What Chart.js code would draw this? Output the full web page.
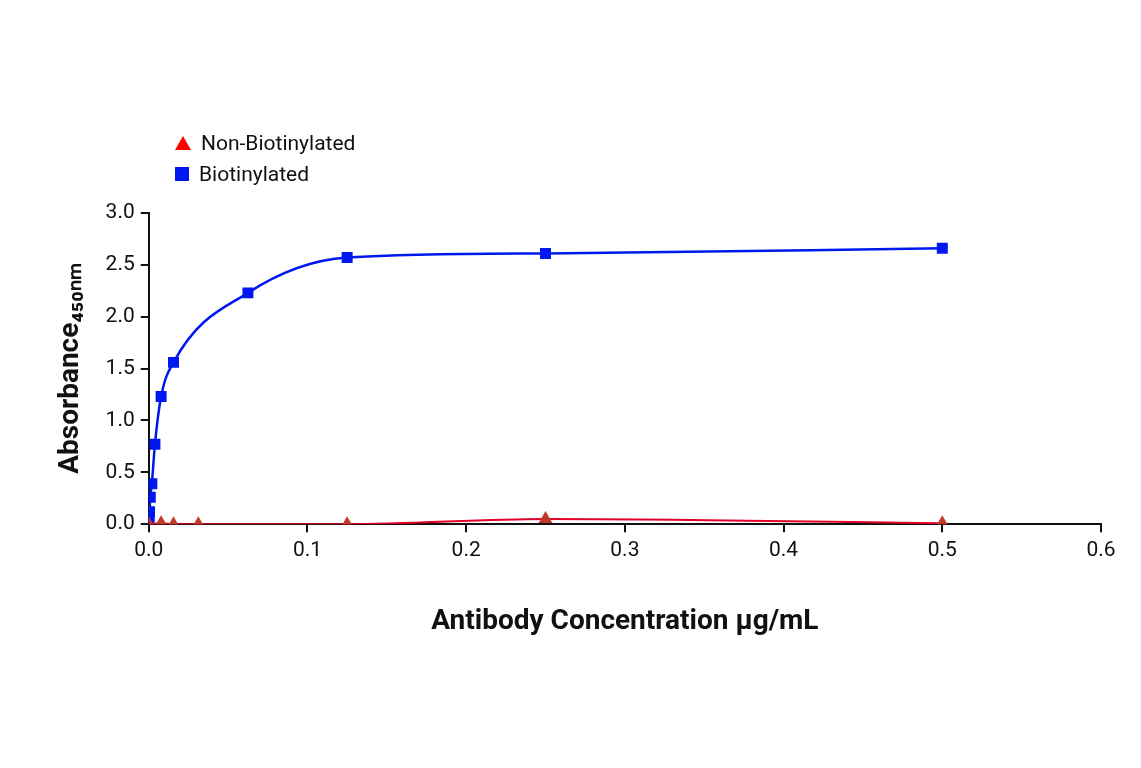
<!DOCTYPE html>
<html><head><meta charset="utf-8">
<script src="https://cdn.jsdelivr.net/npm/chart.js@4"></script>
<style>
body{margin:0;background:#fff;font-family:"Roboto","Liberation Sans",sans-serif;}
#wrap{position:relative;width:1141px;height:768px;}
.leg{position:absolute;left:175px;font-size:21px;color:#111;display:flex;align-items:center;}
.leg span{display:inline-block;margin-right:10px;}
</style></head><body>
<div id="wrap">
<canvas id="c" width="1141" height="768"></canvas>
<div class="leg" style="top:131px"><span style="width:0;height:0;border-left:8px solid transparent;border-right:8px solid transparent;border-bottom:14px solid #f00"></span>Non-Biotinylated</div>
<div class="leg" style="top:162px"><span style="width:14px;height:14px;background:#0018f0"></span>Biotinylated</div>
</div>
<script>
// concentrations (µg/mL) and absorbance readings
const bioConc = [0, 0.00024, 0.00049, 0.00098, 0.00195, 0.0039, 0.0078, 0.0156, 0.0625, 0.125, 0.25, 0.5];
const bioAbs = [0.02, 0.07, 0.12, 0.26, 0.39, 0.77, 1.23, 1.56, 2.23, 2.57, 2.61, 2.66];
const nonConc = [0, 0.0078, 0.0156, 0.03125, 0.125, 0.25, 0.5];
const nonAbs = [0.0, 0.01, 0.0, 0.0, 0.0, 0.05, 0.01];

const pts = (xs, ys) => xs.map((x, i) => ({ x: x, y: ys[i] }));
const fam = "Roboto, 'Liberation Sans', sans-serif";
const tickFont = { family: fam, size: 21 };

new Chart(document.getElementById("c"), {
  type: "line",
  data: {
    datasets: [
      {
        label: "Non-Biotinylated",
        data: pts(nonConc, nonAbs),
        borderColor: "#e0002a",
        borderWidth: 2,
        pointStyle: "triangle",
        pointRadius: 6,
        pointBackgroundColor: "#c0392b",
        pointBorderColor: "#c0392b",
        cubicInterpolationMode: "monotone",
      },
      {
        label: "Biotinylated",
        data: pts(bioConc, bioAbs),
        borderColor: "#0018f0",
        borderWidth: 2.5,
        pointStyle: "rect",
        pointRadius: 6,
        pointBackgroundColor: "#0018f0",
        pointBorderColor: "#0018f0",
        cubicInterpolationMode: "monotone",
      },
    ],
  },
  options: {
    responsive: false,
    animation: false,
    layout: { padding: { left: 50, right: 40, top: 213, bottom: 125 } },
    plugins: { legend: { display: false }, tooltip: { enabled: false } },
    scales: {
      x: {
        type: "linear", min: 0, max: 0.6,
        ticks: { stepSize: 0.1, color: "#111", font: tickFont, padding: 6,
          callback: (v) => (v === 0 ? "0.0" : +v.toFixed(1)) },
        grid: { drawOnChartArea: false, tickLength: 8, color: "#111", lineWidth: 2 },
        border: { color: "#111", width: 2 },
        title: { display: true, text: "Antibody Concentration µg/mL", color: "#111",
          font: { family: fam, size: 28, weight: "bold" }, padding: { top: 36 } },
      },
      y: {
        min: 0, max: 3,
        ticks: { stepSize: 0.5, color: "#111", font: tickFont, padding: 6, callback: (v) => v.toFixed(1) },
        grid: { drawOnChartArea: false, tickLength: 8, color: "#111", lineWidth: 2 },
        border: { color: "#111", width: 2 },
        title: { display: true, text: "Absorbance₄₅₀ₙₘ", color: "#111",
          font: { family: fam, size: 28, weight: "bold" }, padding: { bottom: 12 } },
      },
    },
  },
});
</script>
</body></html>
